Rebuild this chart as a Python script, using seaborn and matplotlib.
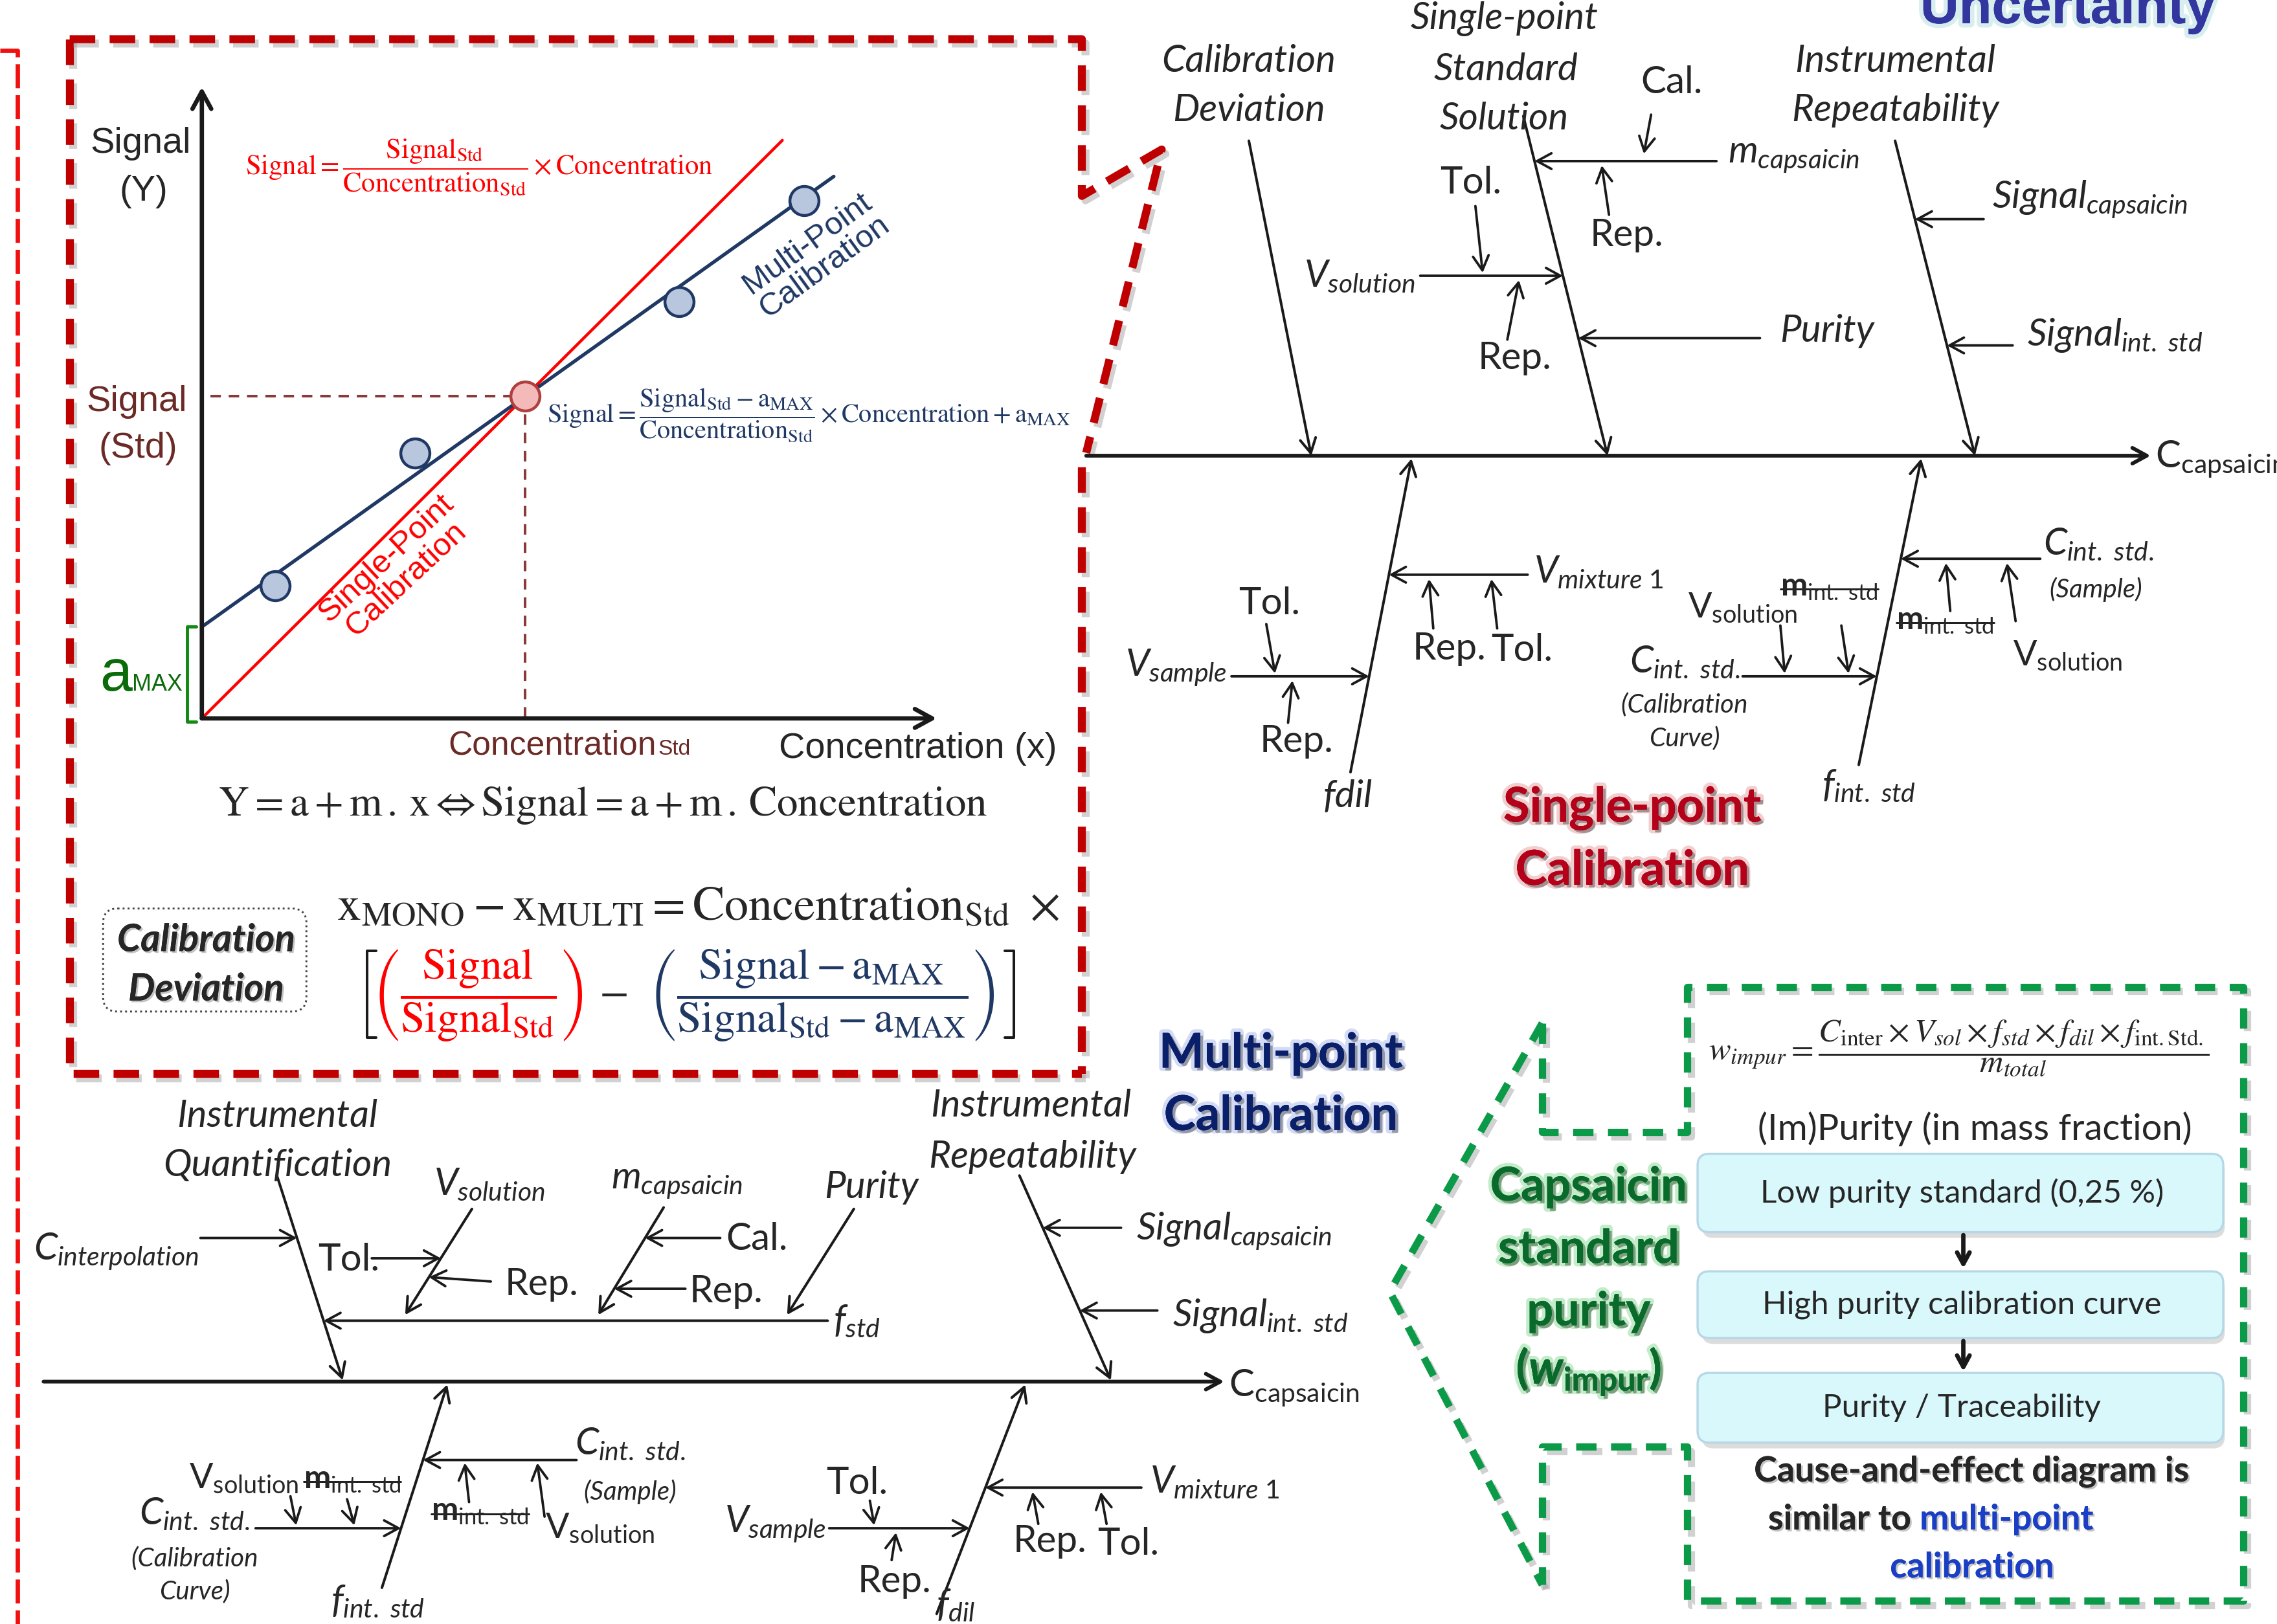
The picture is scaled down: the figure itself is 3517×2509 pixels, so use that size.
import numpy as np
import pandas as pd
import matplotlib
matplotlib.use('Agg')
import matplotlib.pyplot as plt
import matplotlib.patheffects as pe
from matplotlib.patches import FancyBboxPatch
import seaborn as sns

# calibration sketch (arbitrary units)
conc_points = [1.0, 2.9, 6.5, 8.2]
signal_points = [2.1, 4.2, 6.6, 8.2]
conc_std = 4.4
signal_std = 5.1
a_max = 1.45
red_line_end = 7.9
blue_line_end = 8.6

purity_steps = ['Low purity standard (0,25 %)', 'High purity calibration curve', 'Purity / Traceability']

sns.set_theme(style='white')
plt.rcParams['font.family'] = ['Lato', 'DejaVu Sans']
plt.rcParams['mathtext.fontset'] = 'custom'
plt.rcParams['mathtext.rm'] = 'Lato'
plt.rcParams['mathtext.it'] = 'Lato:italic'
plt.rcParams['mathtext.bf'] = 'Lato:bold'
plt.rcParams['mathtext.bfit'] = 'Lato:italic:bold'

W, H = 1568, 1119
K = 3517 / W * 72 / 100   # layout px -> points

fig = plt.figure(figsize=(35.17, 25.09), dpi=100)
ax = fig.add_axes([0, 0, 1, 1])
ax.set_xlim(0, W)
ax.set_ylim(H, 0)
ax.axis('off')

RED = '#ff0000'
NAVY = '#1f3864'
BROWN = '#6b2a26'
DRED = '#c00000'
GREEN = '#0a9a48'


def txt(x, y, s, size, **kw):
    kw.setdefault('ha', 'center')
    kw.setdefault('va', 'center')
    return ax.text(x, y, s, fontsize=size * K, **kw)


def arrow(x1, y1, x2, y2, lw=1.7, color='k', hs=1.0, a=None):
    a = a or ax
    a.annotate('', xy=(x2, y2), xytext=(x1, y1),
               arrowprops=dict(arrowstyle=f'->,head_length={0.55 * hs},head_width={0.3 * hs}',
                               lw=lw * K, color=color, shrinkA=0, shrinkB=0,
                               mutation_scale=18 * K))


def on_bone(b, y):
    x0, y0, x1, y1 = b
    return x0 + (y - y0) / (y1 - y0) * (x1 - x0)


def dashed(xs, ys, color, lw, dash, shadow=True):
    xs, ys = np.array(xs, float), np.array(ys, float)
    if shadow:
        ax.plot(xs + 2.5, ys + 3, color='#9a9a9a', lw=lw * K, alpha=0.45,
                linestyle=(0, dash), dash_capstyle='butt', solid_joinstyle='miter')
    ax.plot(xs, ys, color=color, lw=lw * K, linestyle=(0, dash),
            dash_capstyle='butt', solid_joinstyle='miter')


strikes = []

# ---------------- borders ----------------
dashed([0, 12, 12], [35, 35, 1119], '#f01010', 3, (5.5, 1.6), shadow=False)
dashed([48, 48, 745], [27, 740, 740], DRED, 5.5, (3.2, 1.8))
dashed([48, 745, 745, 800, 748], [27, 27, 135, 103, 312], DRED, 5.5, (3.2, 1.8))
dashed([745, 745], [322, 740], DRED, 5.5, (3.2, 1.8))

dashed([1062, 957, 1062], [705, 890, 1092], GREEN, 5, (2.8, 2.0))
dashed([1062, 1062, 1162, 1162, 1545, 1545, 1162, 1162, 1062, 1062],
       [705, 780, 780, 680, 680, 1103, 1103, 997, 997, 1092], GREEN, 5, (2.8, 2.0))

# ---------------- calibration sketch ----------------
cal = fig.add_axes([139 / W, 1 - 495 / H, (645 - 139) / W, (495 - 60) / H])
cal.set_xlim(0, 10)
cal.set_ylim(0, 10)

red_df = pd.DataFrame({'conc': [0, red_line_end],
                       'signal': [0, red_line_end * signal_std / conc_std]})
blue_df = pd.DataFrame({'conc': [0, blue_line_end],
                        'signal': [a_max, a_max + blue_line_end * (signal_std - a_max) / conc_std]})
sns.lineplot(data=red_df, x='conc', y='signal', color=RED, linewidth=2 * K, ax=cal)
sns.lineplot(data=blue_df, x='conc', y='signal', color=NAVY, linewidth=2.4 * K, ax=cal)
cal.plot([0.12, conc_std], [signal_std, signal_std], ls=(0, (4, 3)), color='#8b3a3a', lw=1.8 * K)
cal.plot([conc_std, conc_std], [signal_std, 0], ls=(0, (4, 3)), color='#8b3a3a', lw=1.8 * K)
pts = pd.DataFrame({'conc': conc_points, 'signal': signal_points})
sns.scatterplot(data=pts, x='conc', y='signal', s=(20 * K) ** 2, color='#b8c6de',
                edgecolor=NAVY, linewidth=2 * K, ax=cal, zorder=5)
sns.scatterplot(x=[conc_std], y=[signal_std], s=(20 * K) ** 2, color='#f4b9b9',
                edgecolor='#b04040', linewidth=2 * K, ax=cal, zorder=6)
arrow(0, 0, 10, 0, lw=3, a=cal, hs=1.2)
arrow(0, 0, 0, 10, lw=3, a=cal, hs=1.2)
cal.plot([-0.08, -0.2, -0.2, -0.08], [a_max, a_max, -0.05, -0.05], color='#128a12',
         lw=2.2 * K, clip_on=False)
cal.axis('off')

SANS = 'Liberation Sans'
txt(97, 99, 'Signal', 25, family=SANS)
txt(99, 132, '(Y)', 25, family=SANS)
txt(94, 277, 'Signal', 25, family=SANS, color=BROWN)
txt(95, 309, '(Std)', 25, family=SANS, color=BROWN)
txt(91, 476, 'a', 40, family=SANS, color='#0b6b0b', va='baseline', ha='right')
txt(91, 476, 'MAX', 16, family=SANS, color='#0b6b0b', va='baseline', ha='left')
txt(452, 520, 'Concentration', 23, family=SANS, color=BROWN, ha='right', va='baseline')
txt(453, 520, 'Std', 15, family=SANS, color=BROWN, ha='left', va='baseline')
txt(632, 516, 'Concentration (x)', 25, family=SANS)
txt(562, 176, 'Multi-Point\nCalibration', 22, family=SANS, color=NAVY, rotation=36,
    linespacing=1.0)
txt(273, 392, 'Single-Point\nCalibration', 22, family=SANS, color=RED, rotation=43,
    linespacing=1.0)

txt(330, 115, r'$\mathrm{Signal} = \dfrac{\mathrm{Signal}_{\mathrm{Std}}}{\mathrm{Concentration}_{\mathrm{Std}}}'
    r' \times \mathrm{Concentration}$', 19, color=RED, math_fontfamily='stix')
txt(557, 286, r'$\mathrm{Signal} = \dfrac{\mathrm{Signal}_{\mathrm{Std}} - \mathrm{a}_{\mathrm{MAX}}}'
    r'{\mathrm{Concentration}_{\mathrm{Std}}} \times \mathrm{Concentration} + \mathrm{a}_{\mathrm{MAX}}$',
    18, color=NAVY, math_fontfamily='stix')
txt(415, 555, r'$\mathrm{Y = a + m\,.\,x} \Leftrightarrow \mathrm{Signal = a + m\,.\,Concentration}$',
    29, math_fontfamily='stix')

box = FancyBboxPatch((71, 626), 140, 71, boxstyle='round,pad=0,rounding_size=10',
                     fc='white', ec='#444444', ls=':', lw=1.3 * K)
ax.add_patch(box)
shadow = [pe.withSimplePatchShadow(offset=(2, -2), shadow_rgbFace='#888888', alpha=0.5), pe.Normal()]
txt(142, 648, 'Calibration', 26, style='italic', weight='bold', path_effects=shadow)
txt(142, 682, 'Deviation', 26, style='italic', weight='bold', path_effects=shadow)

txt(481, 625, r'$\mathrm{x}_{\mathrm{MONO}} - \mathrm{x}_{\mathrm{MULTI}} = \mathrm{Concentration}_{\mathrm{Std}}\ \times$',
    33, math_fontfamily='stix')
ax.plot([259, 253, 253, 259], [655, 655, 715, 715], color='k', lw=1.8 * K)
ax.plot([692, 698, 698, 692], [655, 655, 715, 715], color='k', lw=1.8 * K)
txt(329, 686, r'$\left(\dfrac{\mathrm{Signal}}{\mathrm{Signal}_{\mathrm{Std}}}\right)$', 30,
    color=RED, math_fontfamily='stix')
txt(422, 684, r'$-$', 30, math_fontfamily='stix')
txt(566, 686, r'$\left(\dfrac{\mathrm{Signal} - \mathrm{a}_{\mathrm{MAX}}}{\mathrm{Signal}_{\mathrm{Std}} - \mathrm{a}_{\mathrm{MAX}}}\right)$',
    30, color=NAVY, math_fontfamily='stix')

# ---------------- single-point fishbone ----------------
FS = 26
arrow(748, 314, 1481, 314, lw=2.6)
txt(1484, 316, r'$\mathrm{C}_{\mathrm{capsaicin}}$', FS, ha='left')

B1 = (860, 97, 903, 314)
B2 = (1049, 80, 1107, 314)
B3 = (1305, 97, 1360, 314)
B4 = (930, 532, 972, 316)
B5 = (1280, 527, 1323, 316)
for b in (B1, B2, B3, B4, B5):
    arrow(b[0], b[1], b[2], b[3], lw=1.8)

txt(860, 42, 'Calibration', FS, style='italic')
txt(860, 76, 'Deviation', FS, style='italic')
txt(1036, 13, 'Single-point', FS, style='italic')
txt(1037, 48, 'Standard', FS, style='italic')
txt(1036, 82, 'Solution', FS, style='italic')
txt(1305, 42, 'Instrumental', FS, style='italic')
txt(1305, 76, 'Repeatability', FS, style='italic')

arrow(1182, 111, on_bone(B2, 111), 111)
txt(1190, 108, r'$m_{capsaicin}$', FS, ha='left')
txt(1151, 57, 'Cal.', FS)
arrow(1137, 79, 1132, 106)
txt(1120, 162, 'Rep.', FS)
arrow(1108, 148, 1103, 114)
arrow(978, 190, on_bone(B2, 190), 190)
txt(936, 190, r'$V_{solution}$', FS)
txt(1013, 126, 'Tol.', FS)
arrow(1016, 142, 1021, 188)
txt(1043, 247, 'Rep.', FS)
arrow(1038, 234, 1046, 193)
arrow(1212, 233, on_bone(B2, 233), 233)
txt(1258, 228, 'Purity', FS, style='italic')
arrow(1366, 151, on_bone(B3, 151), 151)
txt(1372, 137, r'$Signal_{capsaicin}$', FS, ha='left')
arrow(1386, 238, on_bone(B3, 238), 238)
txt(1396, 231, r'$Signal_{int.\ std}$', FS, ha='left')

txt(928, 549, 'fdil', FS, style='italic')
arrow(1052, 396, on_bone(B4, 396), 396)
txt(1056, 394, r'$V_{mixture\ 1}$', FS, ha='left')
arrow(987, 433, 984, 399)
arrow(1031, 433, 1027, 399)
txt(998, 447, 'Rep.', FS)
txt(1048, 448, 'Tol.', FS)
arrow(848, 466, on_bone(B4, 466), 466)
txt(810, 460, r'$V_{sample}$', FS)
txt(874, 416, 'Tol.', FS)
arrow(872, 430, 878, 464)
txt(893, 511, 'Rep.', FS)
arrow(887, 498, 890, 469)

txt(1287, 541, r'$f_{int.\ std}$', FS)
arrow(1405, 385, on_bone(B5, 385), 385)
txt(1407, 375, r'$C_{int.\ std.}$', FS, ha='left')
txt(1443, 406, '(Sample)', 18, style='italic')
arrow(1343, 421, 1340, 388)
strikes.append(txt(1306, 428, r'$\mathbf{m}_{\mathrm{int.\ std}}$', 22, ha='left'))
arrow(1388, 428, 1382, 388)
txt(1386, 452, r'$\mathrm{V}_{\mathrm{solution}}$', 24, ha='left')
arrow(1200, 466, on_bone(B5, 466), 466)
txt(1160, 456, r'$C_{int.\ std.}$', FS)
txt(1160, 486, '(Calibration', 18, style='italic')
txt(1160, 509, 'Curve)', 18, style='italic')
txt(1200, 419, r'$\mathrm{V}_{\mathrm{solution}}$', 24)
arrow(1226, 431, 1229, 464)
strikes.append(txt(1226, 405, r'$\mathbf{m}_{\mathrm{int.\ std}}$', 22, ha='left'))
arrow(1268, 431, 1273, 464)

# ---------------- multi-point fishbone ----------------
arrow(30, 952, 843, 952, lw=2.6)
txt(846, 956, r'$\mathrm{C}_{\mathrm{capsaicin}}$', FS, ha='left')

B6 = (191, 811, 236, 951)
B7 = (702, 810, 765, 951)
B8 = (263, 1094, 308, 954)
B9 = (645, 1112, 706, 954)
for b in (B6, B7, B8, B9):
    arrow(b[0], b[1], b[2], b[3], lw=1.8)

txt(191, 769, 'Instrumental', FS, style='italic')
txt(191, 803, 'Quantification', FS, style='italic')
arrow(138, 853, on_bone(B6, 853), 853)
txt(80, 862, r'$C_{interpolation}$', FS)
arrow(570, 910, on_bone(B6, 910), 910)
txt(574, 910, r'$f_{std}$', FS, ha='left')

D1 = (325, 833, 279, 906)
D2 = (457, 832, 412, 906)
D3 = (588, 833, 542, 906)
for d in (D1, D2, D3):
    arrow(d[0], d[1], d[2], d[3], lw=1.8)
txt(337, 816, r'$V_{solution}$', FS)
txt(240, 868, 'Tol.', FS)
arrow(256, 867, on_bone(D1, 867), 867)
txt(373, 885, 'Rep.', FS)
arrow(338, 883, on_bone(D1, 880), 880)
txt(466, 815, r'$m_{capsaicin}$', FS)
txt(521, 854, 'Cal.', FS)
arrow(496, 853, on_bone(D2, 853), 853)
txt(500, 890, 'Rep.', FS)
arrow(472, 888, on_bone(D2, 888), 888)
txt(600, 818, 'Purity', FS, style='italic')

txt(710, 762, 'Instrumental', FS, style='italic')
txt(711, 797, 'Repeatability', FS, style='italic')
arrow(772, 846, on_bone(B7, 846), 846)
txt(850, 848, r'$Signal_{capsaicin}$', FS)
arrow(797, 903, on_bone(B7, 903), 903)
txt(868, 907, r'$Signal_{int.\ std}$', FS)

txt(260, 1103, r'$f_{int.\ std}$', FS)
arrow(397, 1006, on_bone(B8, 1006), 1006)
txt(434, 995, r'$C_{int.\ std.}$', FS)
txt(434, 1028, '(Sample)', 18, style='italic')
arrow(323, 1035, 320, 1008)
strikes.append(txt(297, 1042, r'$\mathbf{m}_{\mathrm{int.\ std}}$', 22, ha='left'))
arrow(375, 1045, 370, 1008)
txt(413, 1053, r'$\mathrm{V}_{\mathrm{solution}}$', 24)
arrow(176, 1053, on_bone(B8, 1053), 1053)
txt(134, 1043, r'$C_{int.\ std.}$', FS)
txt(134, 1074, '(Calibration', 18, style='italic')
txt(134, 1097, 'Curve)', 18, style='italic')
txt(168, 1019, r'$\mathrm{V}_{\mathrm{solution}}$', 24)
arrow(200, 1031, 204, 1051)
strikes.append(txt(209, 1020, r'$\mathbf{m}_{\mathrm{int.\ std}}$', 22, ha='left'))
arrow(239, 1033, 244, 1051)

txt(658, 1106, r'$f_{dil}$', FS)
arrow(786, 1025, on_bone(B9, 1025), 1025)
txt(792, 1021, r'$V_{mixture\ 1}$', FS, ha='left')
arrow(715, 1050, 711, 1028)
arrow(762, 1050, 758, 1028)
txt(723, 1062, 'Rep.', FS)
txt(777, 1064, 'Tol.', FS)
arrow(571, 1053, on_bone(B9, 1053), 1053)
txt(534, 1050, r'$V_{sample}$', FS)
txt(590, 1022, 'Tol.', FS)
arrow(599, 1034, 602, 1051)
txt(616, 1090, 'Rep.', FS)
arrow(614, 1075, 617, 1056)

# ---------------- titles ----------------
glow_red = [pe.withStroke(linewidth=5 * K, foreground='#e8b0b0', alpha=0.6),
            pe.withSimplePatchShadow(offset=(3, -3), shadow_rgbFace='#555555', alpha=0.5), pe.Normal()]
txt(1124, 557, 'Single-point', 33, weight='bold', color='#b5001a', path_effects=glow_red)
txt(1124, 600, 'Calibration', 33, weight='bold', color='#b5001a', path_effects=glow_red)
glow_blue = [pe.withStroke(linewidth=5 * K, foreground='#b8c4ee', alpha=0.6),
             pe.withSimplePatchShadow(offset=(3, -3), shadow_rgbFace='#555555', alpha=0.5), pe.Normal()]
txt(882, 726, 'Multi-point', 33, weight='bold', color='#0a1f6a', path_effects=glow_blue)
txt(882, 769, 'Calibration', 33, weight='bold', color='#0a1f6a', path_effects=glow_blue)
glow_unc = [pe.withStroke(linewidth=6 * K, foreground='#c8e8e8', alpha=0.7), pe.Normal()]
txt(1424, 16, 'Uncertainty', 37, family=SANS, weight='bold', color='#3436a0',
    va='baseline', path_effects=glow_unc)

# ---------------- purity panel ----------------
glow_green = [pe.withStroke(linewidth=5 * K, foreground='#9ee0a8', alpha=0.6),
              pe.withSimplePatchShadow(offset=(3, -3), shadow_rgbFace='#335533', alpha=0.5), pe.Normal()]
for y, s in zip([818, 861, 904], ['Capsaicin', 'standard', 'purity']):
    txt(1094, y, s, 32, weight='bold', color='#086b2c', path_effects=glow_green)
txt(1094, 945, r'($\mathbfit{w}_{\mathbf{impur}}$)', 32, weight='bold', color='#086b2c',
    path_effects=glow_green)

txt(1349, 722, r'$w_{impur} = \dfrac{C_{\mathrm{inter}} \times V_{sol} \times f_{std} \times f_{dil} \times f_{\mathrm{int.Std.}}}{m_{total}}$',
    22.5, math_fontfamily='stix')
txt(1360, 778, '(Im)Purity (in mass fraction)', 25)

for (y0, y1), s in zip([(795, 849), (876, 922), (946, 994)], purity_steps):
    ax.add_patch(FancyBboxPatch((1172, y0 + 4), 360, y1 - y0, boxstyle='round,pad=0,rounding_size=8',
                                fc='#bbbbbb', ec='none', alpha=0.5))
    ax.add_patch(FancyBboxPatch((1169, y0), 362, y1 - y0, boxstyle='round,pad=0,rounding_size=8',
                                fc='#d9f8fc', ec='#b6d7e6', lw=1.5 * K))
    txt(1351, (y0 + y1) / 2, s, 22)
arrow(1352, 851, 1352, 874, lw=3, hs=0.8)
arrow(1352, 924, 1352, 945, lw=3, hs=0.8)

txt(1358, 1014, 'Cause-and-effect diagram is', 24, weight='bold', path_effects=shadow)
txt(1322, 1047, 'similar to ', 24, weight='bold', ha='right', path_effects=shadow)
txt(1322, 1047, 'multi-point', 24, weight='bold', ha='left', color='#1a3fc4', path_effects=shadow)
txt(1358, 1080, 'calibration', 24, weight='bold', color='#1a3fc4', path_effects=shadow)

# strike-through marks on the m_int.std labels
fig.canvas.draw()
r = fig.canvas.get_renderer()
inv = ax.transData.inverted()
for t in strikes:
    bb = t.get_window_extent(r)
    (xa, ya), (xb, yb) = inv.transform([[bb.x0, bb.y0], [bb.x1, bb.y1]])
    ym = yb + 0.55 * (ya - yb)
    ax.plot([xa, xb], [ym, ym], color='k', lw=1.3 * K)

fig.savefig('out.png', dpi=100)
